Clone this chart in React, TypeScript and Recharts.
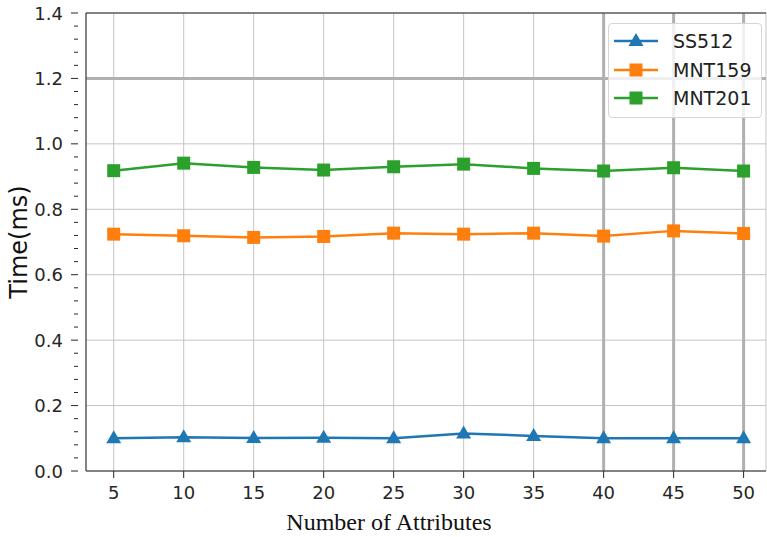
import { LineChart, Line, XAxis, YAxis, CartesianGrid, ReferenceLine, Label } from "recharts";

const attributes = [5, 10, 15, 20, 25, 30, 35, 40, 45, 50];
const ss512 = [0.1, 0.103, 0.101, 0.102, 0.1, 0.115, 0.107, 0.1, 0.1, 0.1];
const mnt159 = [0.724, 0.719, 0.714, 0.717, 0.727, 0.724, 0.727, 0.718, 0.734, 0.726];
const mnt201 = [0.918, 0.941, 0.928, 0.92, 0.93, 0.938, 0.925, 0.917, 0.927, 0.917];

const yTicks = [0, 0.2, 0.4, 0.6, 0.8, 1.0, 1.2, 1.4];
const yMinor = Array.from({ length: 36 }, (_, i) => +(i * 0.04).toFixed(2));

const BLUE = "#1f77b4";
const ORANGE = "#ff7f0e";
const GREEN = "#2ca02c";
const FONT = "'DejaVu Sans', sans-serif";
const INK = "#262626";

const data = attributes.map((a, i) => ({
  attr: a,
  SS512: ss512[i],
  MNT159: mnt159[i],
  MNT201: mnt201[i],
}));

const triangle = (color: string) => (p: any) => (
  <path
    key={`tri-${p.index}`}
    d={`M${p.cx},${p.cy - 8} L${p.cx + 7.5},${p.cy + 5} L${p.cx - 7.5},${p.cy + 5} Z`}
    fill={color}
  />
);

const square = (color: string) => (p: any) => (
  <rect key={`sq-${p.index}`} x={p.cx - 6.5} y={p.cy - 6.5} width={13} height={13} fill={color} />
);

// y tick: long tick + label on multiples of 0.2, short tick otherwise
const YTick = (p: any) => {
  const v = p.payload.value;
  const major = yTicks.some((t) => Math.abs(t - v) < 1e-6);
  const x = p.x;
  const y = p.y;
  return (
    <g>
      <line x1={x} y1={y} x2={x - (major ? 7 : 4)} y2={y} stroke={INK} strokeWidth={1} />
      {major && (
        <text x={x - 15} y={y} textAnchor="end" dominantBaseline="central" fontFamily={FONT} fontSize={18} fill={INK}>
          {v.toFixed(1)}
        </text>
      )}
    </g>
  );
};

const legendItems = [
  { name: "SS512", color: BLUE, shape: "tri" },
  { name: "MNT159", color: ORANGE, shape: "sq" },
  { name: "MNT201", color: GREEN, shape: "sq" },
];

function LegendBox() {
  return (
    <div
      style={{
        position: "absolute",
        left: 608,
        top: 23,
        width: 152,
        border: "1px solid #d6d6d6",
        borderRadius: 4,
        background: "rgba(255,255,255,0.8)",
        padding: "3px 0 4px 0",
        fontFamily: FONT,
        fontSize: 19,
        color: "#222",
      }}
    >
      {legendItems.map((it) => (
        <div key={it.name} style={{ display: "flex", alignItems: "center", height: 28.5 }}>
          <svg width={60} height={20} style={{ marginLeft: 4 }}>
            <line x1={1} y1={10} x2={45} y2={10} stroke={it.color} strokeWidth={2.5} />
            {it.shape === "tri" ? (
              <path d="M23,2 L30.5,15 L15.5,15 Z" fill={it.color} />
            ) : (
              <rect x={16.5} y={3.5} width={13} height={13} fill={it.color} />
            )}
          </svg>
          <span>{it.name}</span>
        </div>
      ))}
    </div>
  );
}

export default function App() {
  return (
    <div style={{ position: "absolute", left: 0, top: 0, width: 767, height: 537, background: "#fff" }}>
      <LineChart width={767} height={537} data={data} margin={{ top: 13, right: 1, left: 0, bottom: 0 }}>
        <CartesianGrid stroke="#c4c4c4" strokeWidth={1} horizontalValues={yTicks} />
        <XAxis
          dataKey="attr"
          type="number"
          domain={[3.02, 51.6]}
          ticks={attributes}
          allowDataOverflow
          height={66}
          tickSize={7}
          tickMargin={8}
          stroke={INK}
          tick={{ fill: INK, fontSize: 18, fontFamily: FONT }}
        >
          <Label
            content={() => (
              <text x={389} y={530} textAnchor="middle" fontFamily="'Liberation Serif', 'Times New Roman', serif" fontSize={24} fill="#111">
                Number of Attributes
              </text>
            )}
          />
        </XAxis>
        <YAxis
          domain={[0, 1.4]}
          ticks={yMinor}
          interval={0}
          width={86}
          allowDataOverflow
          tickLine={false}
          stroke={INK}
          tick={<YTick />}
        >
          <Label
            content={() => (
              <text x={19} y={242} textAnchor="middle" transform="rotate(-90 19 242)" fontFamily={FONT} fontSize={24} fill="#111" dominantBaseline="central">
                Time(ms)
              </text>
            )}
          />
        </YAxis>
        <ReferenceLine y={1.2} stroke="#b0b0b0" strokeWidth={3} />
        <ReferenceLine x={40} stroke="#b0b0b0" strokeWidth={3} />
        <ReferenceLine x={45} stroke="#b0b0b0" strokeWidth={3} />
        <ReferenceLine x={50} stroke="#b0b0b0" strokeWidth={3} />
        <ReferenceLine y={1.4} stroke={INK} strokeWidth={1} />
        <Line dataKey="SS512" stroke={BLUE} strokeWidth={2.5} dot={triangle(BLUE)} isAnimationActive={false} />
        <Line dataKey="MNT159" stroke={ORANGE} strokeWidth={2.5} dot={square(ORANGE)} isAnimationActive={false} />
        <Line dataKey="MNT201" stroke={GREEN} strokeWidth={2.5} dot={square(GREEN)} isAnimationActive={false} />
      </LineChart>
      <LegendBox />
    </div>
  );
}
